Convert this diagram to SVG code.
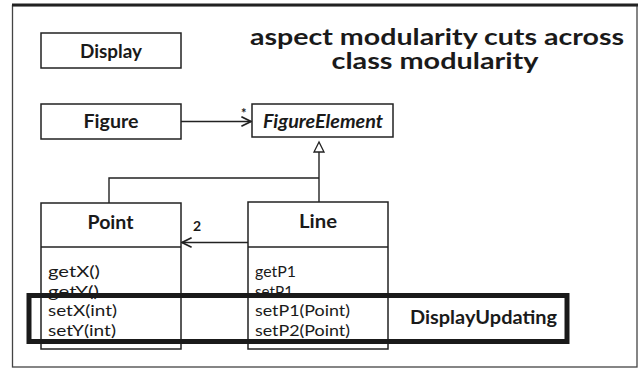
<svg xmlns="http://www.w3.org/2000/svg" width="642" height="369" viewBox="0 0 642 369">
<style>
  .box { fill: #fff; stroke: #222; stroke-width: 1.5; }
  .sep { stroke: #222; stroke-width: 1.5; }
  .conn { fill: none; stroke: #222; stroke-width: 1.4; }
  .t { font-family: Lato, "Liberation Sans", sans-serif; fill: #1a1a1a; }
  .bold { font-weight: bold; }
  .name { font-size: 18px; font-weight: bold; text-anchor: middle; }
  .mem { font-size: 16px; }
  .title { font-size: 22.5px; font-weight: bold; text-anchor: middle; }
</style>
<defs>
  <marker id="open" markerUnits="userSpaceOnUse" markerWidth="12" markerHeight="12" refX="9" refY="5" orient="auto" viewBox="0 0 10 10">
    <path d="M1,1 L9,5 L1,9" fill="none" stroke="#222" stroke-width="1.4"/>
  </marker>
</defs>
<rect x="0" y="0" width="642" height="369" fill="#fff"/>
<g id="frame">
  <rect x="12.5" y="5.5" width="624.5" height="361.5" fill="none" stroke="#444" stroke-width="1.3"/>
  <line x1="12" y1="5" x2="638" y2="5" stroke="#222" stroke-width="3"/>
</g>
<g id="title">
  <text class="t title" x="437" y="44.5" textLength="374" lengthAdjust="spacingAndGlyphs">aspect modularity cuts across</text>
  <text class="t title" x="435" y="69" textLength="207" lengthAdjust="spacingAndGlyphs">class modularity</text>
</g>
<g id="connectors">
  <line class="conn" x1="181" y1="121.5" x2="251" y2="121.5" marker-end="url(#open)"/>
  <text class="t bold" x="241" y="118" font-size="13">*</text>
  <polygon points="319,142 314,152 324,152" fill="#fff" stroke="#222" stroke-width="1.3"/>
  <line class="conn" x1="319" y1="152" x2="319" y2="202"/>
  <polyline class="conn" points="109,203 109,178 319,178"/>
  <line class="conn" x1="248" y1="242.5" x2="182" y2="242.5" marker-end="url(#open)"/>
  <text class="t bold" x="193" y="231" font-size="14">2</text>
</g>
<g id="display">
  <rect class="box" x="41" y="33" width="140" height="35"/>
  <text class="t name" x="111" y="58" textLength="62" lengthAdjust="spacingAndGlyphs">Display</text>
</g>
<g id="figure">
  <rect class="box" x="41" y="104" width="140" height="35"/>
  <text class="t name" x="111" y="128" textLength="55" lengthAdjust="spacingAndGlyphs">Figure</text>
</g>
<g id="figureelement">
  <rect class="box" x="252" y="104" width="141" height="33"/>
  <text class="t name" x="323" y="128" font-style="italic" textLength="120" lengthAdjust="spacingAndGlyphs">FigureElement</text>
</g>
<g id="point">
  <rect class="box" x="41" y="203" width="140" height="146"/>
  <line class="sep" x1="41" y1="247" x2="181" y2="247"/>
  <text class="t name" x="110.5" y="229" textLength="46" lengthAdjust="spacingAndGlyphs">Point</text>
  <text class="t mem" x="48" y="277" textLength="52" lengthAdjust="spacingAndGlyphs">getX()</text>
  <text class="t mem" x="48" y="296.5" textLength="51" lengthAdjust="spacingAndGlyphs">getY()</text>
  <text class="t mem" x="48" y="316" textLength="69" lengthAdjust="spacingAndGlyphs">setX(int)</text>
  <text class="t mem" x="48" y="335.5" textLength="68" lengthAdjust="spacingAndGlyphs">setY(int)</text>
</g>
<g id="line">
  <rect class="box" x="248" y="202" width="140" height="147"/>
  <line class="sep" x1="248" y1="247" x2="388" y2="247"/>
  <text class="t name" x="318" y="228" textLength="38" lengthAdjust="spacingAndGlyphs">Line</text>
  <text class="t mem" x="255" y="277" textLength="41" lengthAdjust="spacingAndGlyphs">getP1</text>
  <text class="t mem" x="255" y="296.5" textLength="38" lengthAdjust="spacingAndGlyphs">setP1</text>
  <text class="t mem" x="255" y="316" textLength="95" lengthAdjust="spacingAndGlyphs">setP1(Point)</text>
  <text class="t mem" x="255" y="335.5" textLength="95" lengthAdjust="spacingAndGlyphs">setP2(Point)</text>
</g>
<g id="displayupdating">
  <rect x="29" y="295.5" width="538" height="46" fill="none" stroke="#1a1a1a" stroke-width="5"/>
  <text class="t bold" x="410" y="324" font-size="19" textLength="147" lengthAdjust="spacingAndGlyphs">DisplayUpdating</text>
</g>
</svg>
